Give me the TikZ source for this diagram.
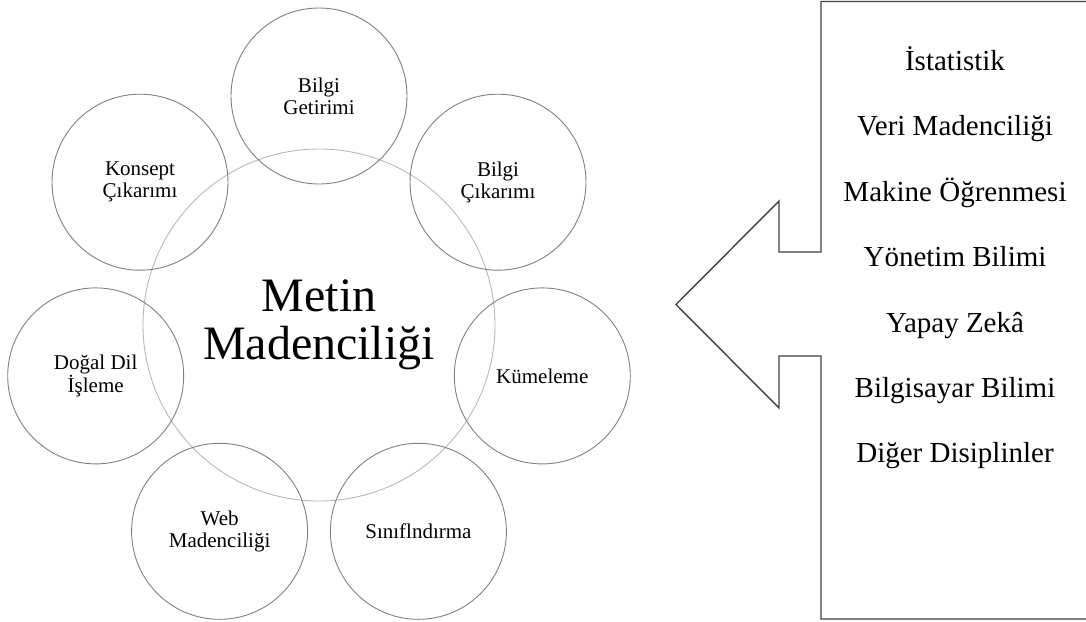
\documentclass[tikz,border=0pt]{standalone}
\usepackage{fontspec}
\setmainfont{Liberation Serif}
\definecolor{ringgray}{HTML}{808080}
\definecolor{biggray}{HTML}{B8B8B8}
\definecolor{boxgray}{HTML}{404040}
\tikzset{
  small/.style={circle, draw=ringgray, line width=0.9pt, minimum size=176pt, inner sep=0pt, align=center,
    font=\fontsize{21}{21.7}\selectfont},
  big/.style={circle, draw=biggray, line width=0.9pt, minimum size=352pt, inner sep=0pt, align=center,
    font=\fontsize{48}{48}\selectfont},
  listtext/.style={anchor=base, font=\fontsize{29}{29}\selectfont},
  callout/.style={draw=boxgray, line width=1.4pt, line join=miter}
}
\begin{document}
\begin{tikzpicture}[x=1pt, y=-1pt]
\useasboundingbox (0,0) rectangle (1086,621);
\node[big] (c0) at (319,325) {Metin\\Madenciliği};
\node[small] (s1) at (319,96) {Bilgi\\Getirimi};
\node[small] (s2) at (140,182.2) {Konsept\\Çıkarımı};
\node[small] (s3) at (95.7,375.9) {Doğal Dil\\İşleme};
\node[small] (s4) at (219.6,531.3) {Web\\Madenciliği};
\node[small] (s5) at (418.4,531.3) {Sınıflndırma};
\node[small] (s6) at (542.3,375.9) {Kümeleme};
\node[small] (s7) at (498,182.2) {Bilgi\\Çıkarımı};
\begin{scope}
\clip (0,0) rectangle (1086,621);
\draw[callout] (821,1.5) -- (821,252) -- (779,252) -- (779,201) -- (676,304.5)
  -- (779,408) -- (779,356) -- (821,356) -- (821,619) -- (1100,619) -- (1100,1.5) -- cycle;
\end{scope}
\node[listtext] (t1) at (955,70.5) {İstatistik};
\node[listtext] (t2) at (955,135.9) {Veri Madenciliği};
\node[listtext] (t3) at (955,201.3) {Makine Öğrenmesi};
\node[listtext] (t4) at (955,266.7) {Yönetim Bilimi};
\node[listtext] (t5) at (955,332.1) {Yapay Zekâ};
\node[listtext] (t6) at (955,397.5) {Bilgisayar Bilimi};
\node[listtext] (t7) at (955,462.9) {Diğer Disiplinler};
\end{tikzpicture}
\end{document}
